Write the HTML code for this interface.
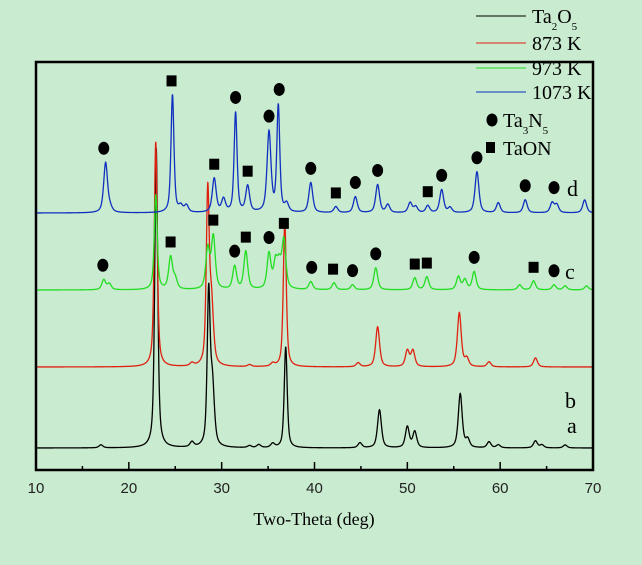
<!DOCTYPE html>
<html><head><meta charset="utf-8"><style>
html,body{margin:0;padding:0;background:#c9ebcf;}
svg{display:block;font-family:"Liberation Serif",serif;}
.tk{font-family:"Liberation Sans",sans-serif;font-size:15px;fill:#222;}
</style></head><body>
<svg id="chart" width="642" height="565" viewBox="0 0 642 565" xmlns="http://www.w3.org/2000/svg">
<rect x="0" y="0" width="642" height="565" fill="#c9ebcf"/>
<g id="series"></g>
<g id="marks"></g>
<rect x="36" y="62" width="557" height="408" fill="none" stroke="#000" stroke-width="2.5"/>
<g id="axis"></g>
<text x="314" y="525" font-size="18" text-anchor="middle">Two-Theta (deg)</text>
<text x="567" y="433" font-size="22">a</text>
<text x="565" y="408" font-size="22">b</text>
<text x="565" y="279" font-size="22">c</text>
<text x="567" y="196" font-size="22">d</text>
<g font-size="20">
 <g><line x1="476" y1="16" x2="526" y2="16" stroke="#000"/><text x="532" y="23">Ta<tspan font-size="11" dy="7">2</tspan><tspan dy="-7">O</tspan><tspan font-size="11" dy="7">5</tspan></text></g>
 <g><line x1="476" y1="43" x2="526" y2="43" stroke="#e02010"/><text x="532" y="50">873 K</text></g>
 <g><line x1="476" y1="68" x2="526" y2="68" stroke="#22dd22"/><text x="532" y="75">973 K</text></g>
 <g><line x1="476" y1="92" x2="526" y2="92" stroke="#1030c0"/><text x="532" y="99">1073 K</text></g>
 <g><ellipse cx="492" cy="120" rx="5.5" ry="6.5" fill="#000"/><text x="503" y="127">Ta<tspan font-size="11" dy="7">3</tspan><tspan dy="-7">N</tspan><tspan font-size="11" dy="7">5</tspan></text></g>
 <g><rect x="486" y="142" width="9" height="11" fill="#000"/><text x="503" y="155">TaON</text></g>
</g>
</svg>
<script>
const xMin = 10, xMax = 70;
const xTicks = [10,20,30,40,50,60,70];
const minorTicks = [15,25,35,45,55,65];
const tA = [17.0,22.95,26.8,28.6,29.0,33.0,34.0,35.5,36.9,44.9,47.0,50.0,50.8,55.7,56.5,58.8,59.8,63.8,64.5,67.0];
const hA = [3,300,5,150,60,2,3,4,101,5,38,21,16,54,8,6,3,7,3,3];
const tB = [22.9,26.8,28.5,28.9,33,35.5,36.8,44.7,46.8,50.0,50.6,55.6,56.4,58.8,63.8];
const hB = [225,3,170,60,2,3,145,4,40,16,16,54,8,5,9];
const tC = [17.3,17.9,22.9,24.5,25.0,28.5,29.1,31.4,32.6,35.1,35.8,36.2,36.7,39.6,42.1,44.1,46.6,50.8,52.1,55.5,56.2,57.2,62.1,63.6,65.8,67.0,69.3];
const hC = [10,6,95,32,10,40,52,23,38,35,25,22,48,8,7,5,22,12,13,13,10,18,5,9,5,4,4];
const tD = [17.5,18.0,24.7,25.6,26.2,29.2,30.2,31.5,32.8,35.1,36.1,37.0,39.6,42.3,44.4,46.8,47.9,50.3,50.9,52.2,53.7,54.6,57.5,59.8,62.7,65.6,66.1,69.1];
const hD = [50,4,118,6,7,34,13,100,26,80,106,8,30,6,16,28,8,10,6,7,23,5,41,10,13,10,8,13];
const mCt = [17.2,24.5,29.1,31.4,32.6,35.1,36.7,39.7,42.0,44.1,46.6,50.8,52.1,57.2,63.6,65.8];
const mCk = ['c','s','s','c','s','c','s','c','s','c','c','s','s','c','s','c'];
const mDt = [17.3,24.6,29.2,31.5,32.8,35.1,36.2,39.6,42.3,44.4,46.8,52.2,53.7,57.5,62.7,65.8];
const mDk = ['c','s','s','c','s','c','c','c','s','c','c','s','c','c','c','c'];

const L = 36, R = 593;
const xs = t => L + (t - xMin) * (R - L) / (xMax - xMin);
const NS = 'http://www.w3.org/2000/svg';
function prof(t, ts, hs){
  let y = 0;
  for (let i=0;i<ts.length;i++){
    const w = hs[i] > 80 ? 0.19 : 0.25;
    const d = (t - ts[i]) / w;
    y += hs[i] * (0.6/(1+d*d) + 0.4*Math.exp(-0.693*d*d));
  }
  return y;
}
const seriesG = document.getElementById('series');
function drawSeries(ts, hs, base, color, name){
  let d = '';
  for (let t = xMin; t <= xMax + 1e-9; t += 0.02){
    const y = base - prof(t, ts, hs);
    d += (d ? 'L' : 'M') + xs(t).toFixed(2) + ' ' + Math.max(y, 63).toFixed(2);
  }
  const p = document.createElementNS(NS, 'path');
  p.setAttribute('d', d);
  p.setAttribute('fill', 'none');
  p.setAttribute('stroke', color);
  p.setAttribute('stroke-width', '1.3');
  
  
  seriesG.appendChild(p);
}
drawSeries(tA, hA, 448, '#000', 'series-ta2o5');
drawSeries(tB, hB, 367, '#e02010', 'series-873k');
drawSeries(tC, hC, 290, '#22dd22', 'series-973k');
drawSeries(tD, hD, 213, '#1030c0', 'series-1073k');

const marksG = document.getElementById('marks');
function drawMarks(mt, mk, ts, hs, base){
  for (let i=0;i<mt.length;i++){
    let top = 0;
    for (let t = mt[i]-0.3; t <= mt[i]+0.3; t += 0.02) top = Math.max(top, prof(t, ts, hs));
    const x = xs(mt[i]);
    const y = base - top - 14;
    let el;
    if (mk[i] === 'c'){
      el = document.createElementNS(NS, 'ellipse');
      el.setAttribute('cx', x); el.setAttribute('cy', y);
      el.setAttribute('rx', 5.5); el.setAttribute('ry', 6.5);
      
    } else {
      el = document.createElementNS(NS, 'rect');
      el.setAttribute('x', x-5); el.setAttribute('y', y-5);
      el.setAttribute('width', 10); el.setAttribute('height', 11);
      
    }
    
    el.setAttribute('fill', '#000');
    marksG.appendChild(el);
  }
}
drawMarks(mCt, mCk, tC, hC, 290);
drawMarks(mDt, mDk, tD, hD, 213);

const axisG = document.getElementById('axis');
xTicks.forEach(v => {
  const x = xs(v);
  const l = document.createElementNS(NS, 'line');
  l.setAttribute('x1', x); l.setAttribute('x2', x); l.setAttribute('y1', 470); l.setAttribute('y2', 462);
  l.setAttribute('stroke', '#000'); l.setAttribute('stroke-width', '1.5');
  
  
  axisG.appendChild(l);
  const tx = document.createElementNS(NS, 'text');
  tx.setAttribute('x', x); tx.setAttribute('y', 493);
  tx.setAttribute('text-anchor', 'middle');
  tx.setAttribute('class', 'tk');
  tx.textContent = v;
  
  
  axisG.appendChild(tx);
});
minorTicks.forEach(v => {
  const x = xs(v);
  const l = document.createElementNS(NS, 'line');
  l.setAttribute('x1', x); l.setAttribute('x2', x); l.setAttribute('y1', 470); l.setAttribute('y2', 466);
  l.setAttribute('stroke', '#000'); l.setAttribute('stroke-width', '1.5');
  
  
  axisG.appendChild(l);
});
</script>
</body></html>
